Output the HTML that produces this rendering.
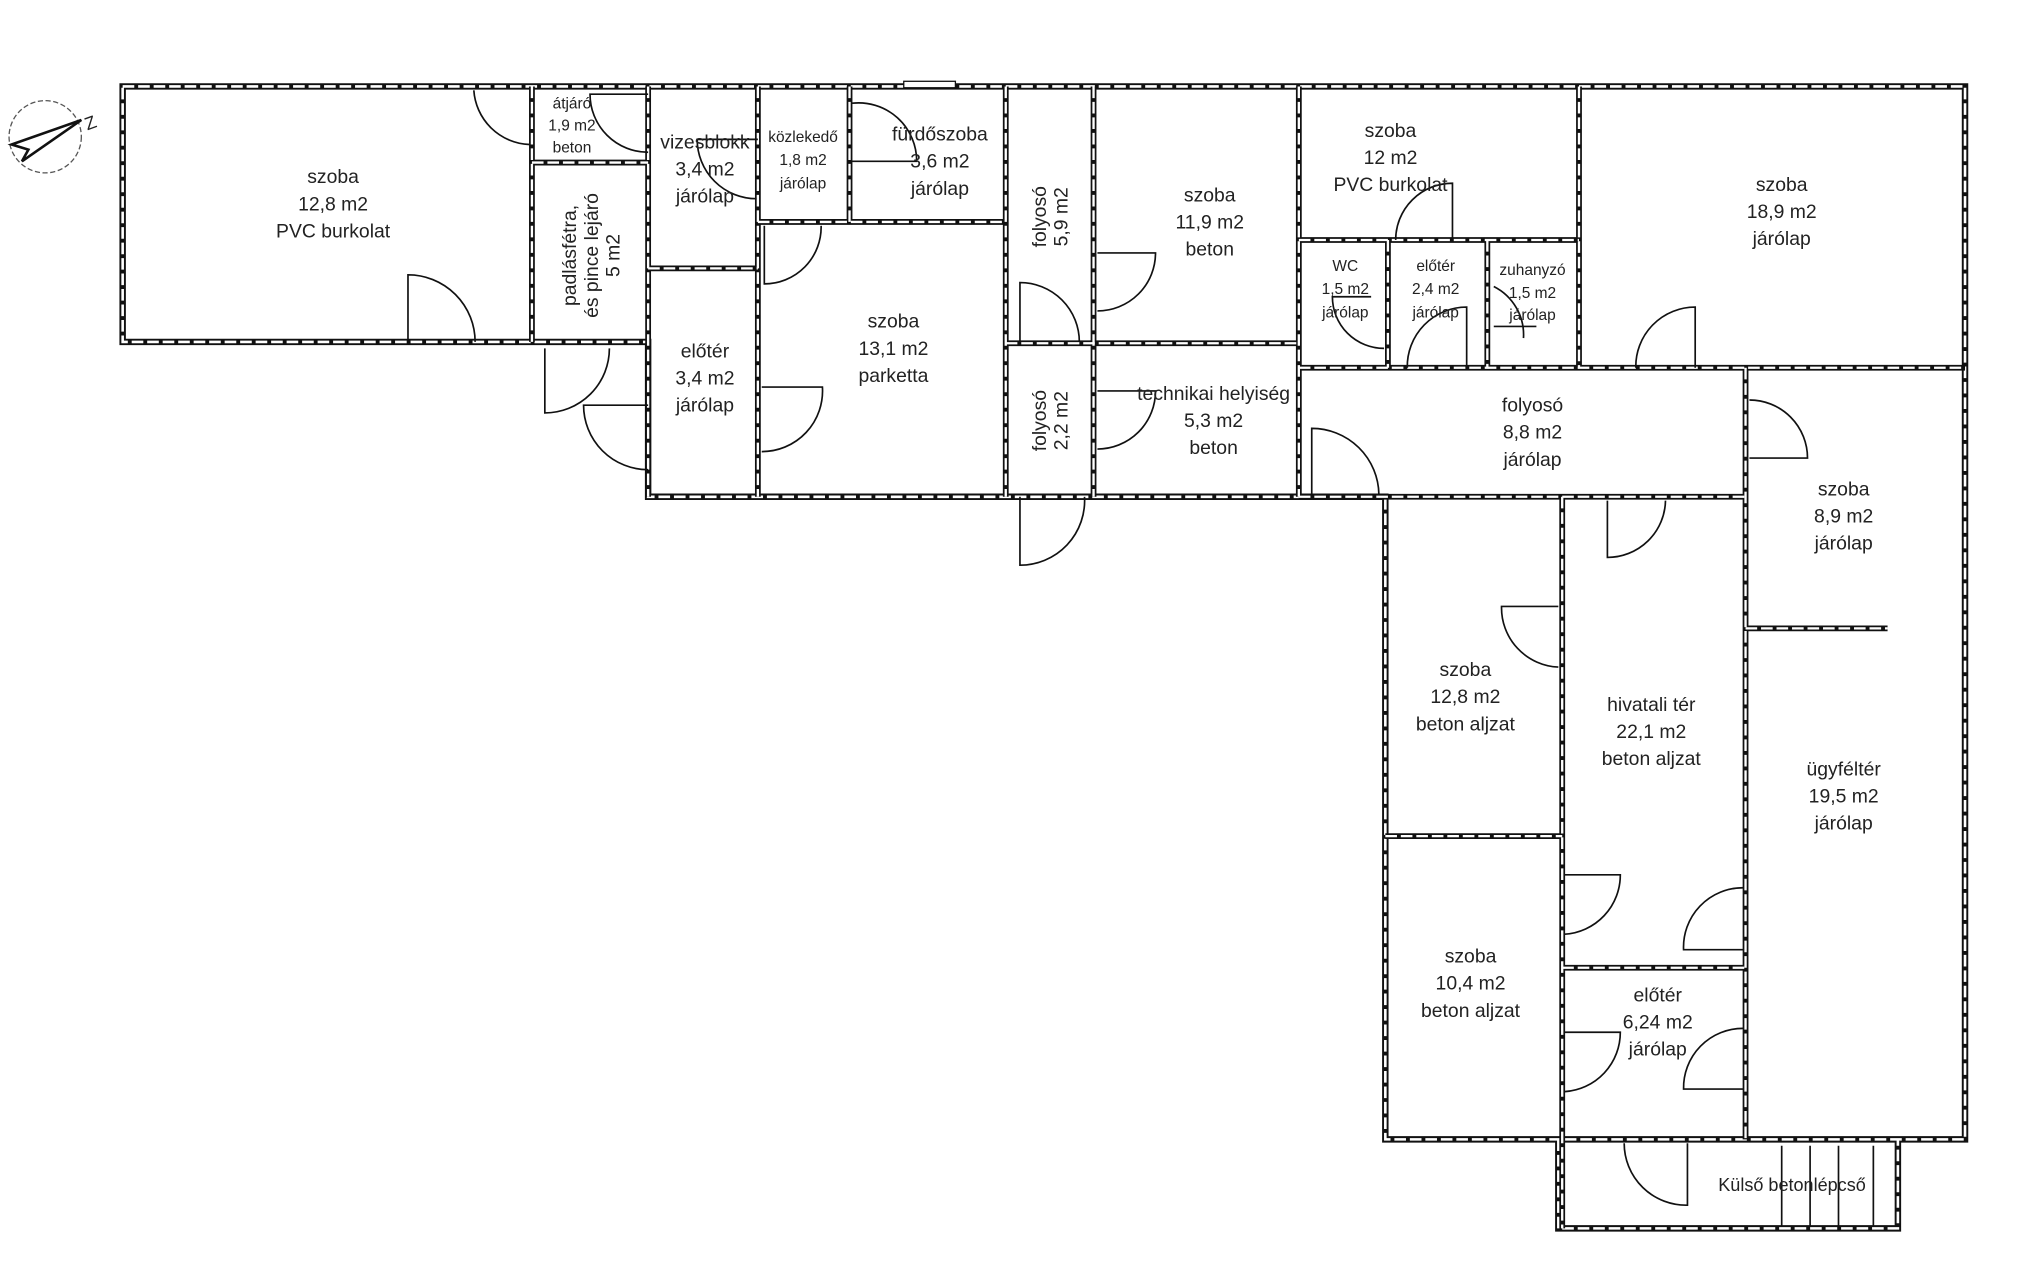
<!DOCTYPE html>
<html><head><meta charset="utf-8"><style>
html,body{margin:0;padding:0;background:#fff}
svg{display:block}
text{font-family:"Liberation Sans",sans-serif;fill:#222;text-anchor:middle}
</style></head><body>
<svg width="2027" height="1280" viewBox="0 0 1570 992" preserveAspectRatio="none" xmlns="http://www.w3.org/2000/svg">
<defs>
<path id="OW" d="M95,67 H1522 V883 H1073 V385 H502 V265 H95 Z M1207,883 V952 H1470 V883"/>
<path id="IW" d="M412,67 V265 M412,126 H502 M502,67 V385 M502,208 H587 M587,67 V385 M587,172 H779 M658,67 V172 M779,67 V385 M779,266 H1006 M847,67 V385 M1006,67 V385 M1006,186 H1223 M1075,186 V285 M1152,186 V285 M1223,67 V285 M1006,285 H1522 M1352,285 V883 M1006,385 H1352 M1352,487 H1462 M1210,385 V952 M1073,648 H1210 M1210,750 H1352"/>
</defs>
<g fill="none">
<use href="#OW" stroke="#111" stroke-width="5"/>
<use href="#OW" stroke="#fff" stroke-width="2" stroke-dasharray="9 3"/>
<use href="#IW" stroke="#111" stroke-width="4.5"/>
<use href="#IW" stroke="#fff" stroke-width="1.8" stroke-dasharray="9 3"/>
<rect x="700" y="63" width="40" height="5" stroke="#111" stroke-width="1" fill="#fff"/>
</g>
<g fill="none" stroke="#111" stroke-width="1.3">
<path d="M316,265 V213 A52,52 0 0 1 368,265"/>
<path d="M367,70 A45,45 0 0 0 410,112"/>
<path d="M502,73 H457 A45,45 0 0 0 502,118"/>
<path d="M587,108 H540 A46,46 0 0 0 586,154"/>
<path d="M660,125 H710 A45,45 0 0 0 660,80"/>
<path d="M592,175 V220 A44,44 0 0 0 636,175"/>
<path d="M590,300 H637 A47,47 0 0 1 590,350"/>
<path d="M422,270 V320 A50,50 0 0 0 472,270"/>
<path d="M502,314 H452 A50,50 0 0 0 502,364"/>
<path d="M790,265 V219 A46,46 0 0 1 836,265"/>
<path d="M850,196 H895 A45,45 0 0 1 850,241"/>
<path d="M790,385 V438 A50,50 0 0 0 840,385"/>
<path d="M850,303 H895 A45,45 0 0 1 850,348"/>
<path d="M1125,186 V142 A44,44 0 0 0 1081,186"/>
<path d="M1072,270 A40,40 0 0 1 1032,230 H1062"/>
<path d="M1136,285 V238 A46,46 0 0 0 1090,285"/>
<path d="M1157,222 A42,42 0 0 1 1180,262 M1157,253 H1190"/>
<path d="M1313,285 V238 A46,46 0 0 0 1267,285"/>
<path d="M1016,383 V332 A52,52 0 0 1 1068,383"/>
<path d="M1355,310 A45,45 0 0 1 1400,355 H1355"/>
<path d="M1245,388 V432 A45,45 0 0 0 1290,388"/>
<path d="M1207,470 H1163 A46,46 0 0 0 1207,517"/>
<path d="M1212,678 H1255 A46,46 0 0 1 1212,724"/>
<path d="M1350,688 A46,46 0 0 0 1304,736 H1350"/>
<path d="M1212,800 H1255 A46,46 0 0 1 1212,846"/>
<path d="M1350,797 A46,46 0 0 0 1304,844 H1350"/>
<path d="M1258,886 A48,48 0 0 0 1307,934 V886"/>
<path d="M1380,888 V950 M1402,888 V950 M1424,888 V950 M1451,888 V950"/>
</g>
<g fill="none" stroke="#555" stroke-width="1">
<circle cx="35" cy="106" r="28" stroke-dasharray="4 2"/>
</g>
<path d="M9,112 L63,93 L17,125 L22,116 Z" fill="none" stroke="#111" stroke-width="2"/>
<text x="70" y="100" style="font-size:14px" transform="rotate(-20 70 95)">Z</text>
<g style="font-size:15px">
<text x="258" y="142">szoba</text><text x="258" y="163">12,8 m2</text><text x="258" y="184">PVC burkolat</text>
<text x="443" y="84" style="font-size:12px">átjáró</text><text x="443" y="101" style="font-size:12px">1,9 m2</text><text x="443" y="118" style="font-size:12px">beton</text>
<g transform="translate(458,198) rotate(-90)"><text x="0" y="-12">padlásfétra,</text><text x="0" y="5">és pince lejáró</text><text x="0" y="22">5 m2</text></g>
<text x="546" y="115">vizesblokk</text><text x="546" y="136">3,4 m2</text><text x="546" y="157">járólap</text>
<text x="622" y="110" style="font-size:12px">közlekedő</text><text x="622" y="128" style="font-size:12px">1,8 m2</text><text x="622" y="146" style="font-size:12px">járólap</text>
<text x="728" y="109">fürdőszoba</text><text x="728" y="130">3,6 m2</text><text x="728" y="151">járólap</text>
<text x="546" y="277">előtér</text><text x="546" y="298">3,4 m2</text><text x="546" y="319">járólap</text>
<text x="692" y="254">szoba</text><text x="692" y="275">13,1 m2</text><text x="692" y="296">parketta</text>
<g transform="translate(813,168) rotate(-90)"><text x="0" y="-3">folyosó</text><text x="0" y="14">5,9 m2</text></g>
<g transform="translate(813,326) rotate(-90)"><text x="0" y="-3">folyosó</text><text x="0" y="14">2,2 m2</text></g>
<text x="937" y="156">szoba</text><text x="937" y="177">11,9 m2</text><text x="937" y="198">beton</text>
<text x="940" y="310">technikai helyiség</text><text x="940" y="331">5,3 m2</text><text x="940" y="352">beton</text>
<text x="1077" y="106">szoba</text><text x="1077" y="127">12 m2</text><text x="1077" y="148">PVC burkolat</text>
<text x="1042" y="210" style="font-size:12px">WC</text><text x="1042" y="228" style="font-size:12px">1,5 m2</text><text x="1042" y="246" style="font-size:12px">járólap</text>
<text x="1112" y="210" style="font-size:12px">előtér</text><text x="1112" y="228" style="font-size:12px">2,4 m2</text><text x="1112" y="246" style="font-size:12px">járólap</text>
<text x="1187" y="213" style="font-size:12px">zuhanyzó</text><text x="1187" y="231" style="font-size:12px">1,5 m2</text><text x="1187" y="248" style="font-size:12px">járólap</text>
<text x="1380" y="148">szoba</text><text x="1380" y="169">18,9 m2</text><text x="1380" y="190">járólap</text>
<text x="1187" y="319">folyosó</text><text x="1187" y="340">8,8 m2</text><text x="1187" y="361">járólap</text>
<text x="1428" y="384">szoba</text><text x="1428" y="405">8,9 m2</text><text x="1428" y="426">járólap</text>
<text x="1135" y="524">szoba</text><text x="1135" y="545">12,8 m2</text><text x="1135" y="566">beton aljzat</text>
<text x="1279" y="551">hivatali tér</text><text x="1279" y="572">22,1 m2</text><text x="1279" y="593">beton aljzat</text>
<text x="1428" y="601">ügyféltér</text><text x="1428" y="622">19,5 m2</text><text x="1428" y="643">járólap</text>
<text x="1139" y="746">szoba</text><text x="1139" y="767">10,4 m2</text><text x="1139" y="788">beton aljzat</text>
<text x="1284" y="776">előtér</text><text x="1284" y="797">6,24 m2</text><text x="1284" y="818">járólap</text>
<text x="1388" y="923" style="font-size:14px">Külső betonlépcső</text>
</g>
</svg>
</body></html>
